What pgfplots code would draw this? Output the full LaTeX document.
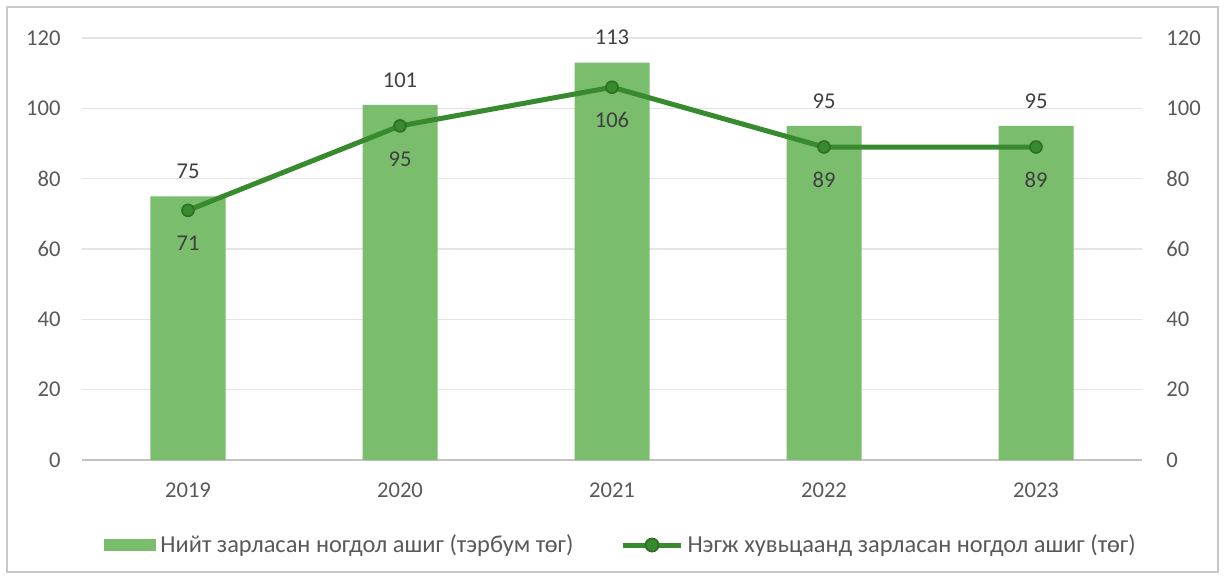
\documentclass[border=0pt]{standalone}
\usepackage{pgfplots}
\pgfplotsset{compat=1.18}
\usepackage{fontspec}
\setmainfont{Carlito}

\definecolor{bargreen}{RGB}{122,189,108}
\definecolor{linegreen}{RGB}{56,138,46}
\definecolor{ticktext}{RGB}{89,89,89}
\definecolor{labtext}{RGB}{64,64,64}
\definecolor{gridgray}{RGB}{228,228,228}
\definecolor{framegray}{RGB}{200,200,200}

\begin{document}
\begin{tikzpicture}[font=\fontsize{11}{13}\selectfont]
  \useasboundingbox (-41pt,-57.5pt) rectangle (571pt,230pt);
  \draw[framegray, line width=1pt] (-37.5pt,-56pt) rectangle (568pt,226.5pt);

  \begin{axis}[
      scale only axis, width=530pt, height=211pt,
      xmin=-0.5, xmax=4.5, ymin=0, ymax=120,
      xtick={0,1,2,3,4},
      xticklabels={2019,2020,2021,2022,2023},
      ytick={0,20,...,120},
      axis x line*=bottom, axis y line*=left,
      y axis line style={draw=none},
      x axis line style={draw=gridgray!85!black, line width=0.75pt, -},
      ymajorgrids, grid style={draw=gridgray, line width=0.75pt},
      major tick length=0pt, tick style={draw=none},
      ticklabel style={font=\fontsize{11.3}{13}\selectfont, text=ticktext},
      yticklabel style={anchor=east, inner sep=0pt, xshift=-10.5pt},
      xticklabel style={anchor=center, inner sep=0pt, yshift=-15pt},
      /pgf/number format/assume math mode=true,
      legend columns=2,
      legend cell align=left,
      legend style={at={(0.5,0)}, anchor=center, xshift=5pt, yshift=-42.5pt,
        draw=none, fill=none, font=\fontsize{12.2}{14}\selectfont,
        text=ticktext,
        /tikz/every even column/.append style={column sep=21.5pt}},
    ]
    % total dividends (bn MNT)
    \addplot[ybar, bar width=37.5pt, fill=bargreen, draw=none,
      nodes near coords, nodes near coords align={center},
      every node near coord/.append style={anchor=center, yshift=12.5pt,
        text=labtext, font=\fontsize{11.3}{13}\selectfont},
      legend image code/.code={\fill[bargreen] (0pt,-3pt) rectangle (26pt,3pt);}]
      coordinates {(0,75) (1,101) (2,113) (3,95) (4,95)};
    \addlegendentry{Нийт зарласан ногдол ашиг (тэрбум төг)}

    % dividend per share (MNT)
    \addplot[linegreen, line width=2.5pt, mark=*, mark size=3pt,
      mark options={fill=linegreen, draw=linegreen!80!black, line width=0.8pt},
      nodes near coords, nodes near coords align={center},
      every node near coord/.append style={anchor=center, yshift=-16.5pt,
        text=labtext, font=\fontsize{11.3}{13}\selectfont},
      legend image code/.code={
        \draw[linegreen, line width=2.5pt] (0pt,0pt) -- (29pt,0pt);
        \fill[linegreen, draw=linegreen!80!black, line width=0.8pt] (14.5pt,0pt) circle (3.3pt);}]
      coordinates {(0,71) (1,95) (2,106) (3,89) (4,89)};
    \addlegendentry{Нэгж хувьцаанд зарласан ногдол ашиг (төг)}
  \end{axis}

  \begin{axis}[
      scale only axis, width=530pt, height=211pt,
      xmin=-0.5, xmax=4.5, ymin=0, ymax=120,
      axis x line=none, axis y line*=right,
      y axis line style={draw=none},
      ytick={0,20,...,120},
      major tick length=0pt, tick style={draw=none},
      ticklabel style={font=\fontsize{11.3}{13}\selectfont, text=ticktext},
      yticklabel style={anchor=west, inner sep=0pt, xshift=12pt},
      /pgf/number format/assume math mode=true,
    ]
  \end{axis}
\end{tikzpicture}
\end{document}
